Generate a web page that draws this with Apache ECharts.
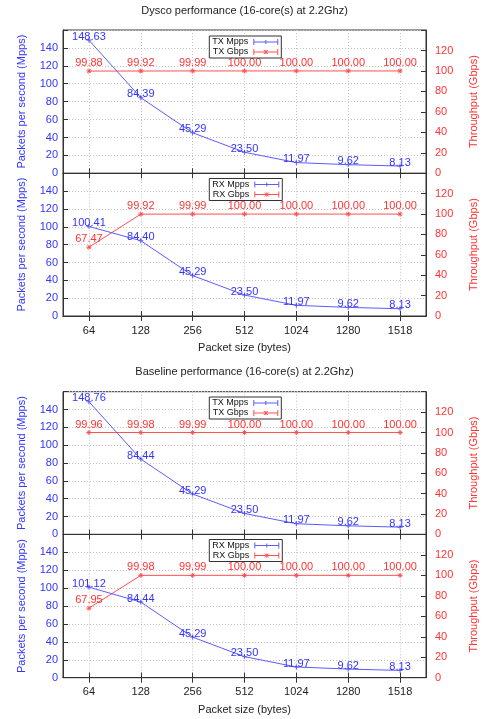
<!DOCTYPE html>
<html><head><meta charset="utf-8">
<script src="https://cdn.jsdelivr.net/npm/echarts@6/dist/echarts.min.js"></script>
<style>html,body{margin:0;padding:0;background:#fff}#c{width:482px;height:719px}</style>
</head><body><div id="c"></div>
<script>
const categories = ['64', '128', '256', '512', '1024', '1280', '1518'];
const dyscoTxMpps = [148.63, 84.39, 45.29, 23.50, 11.97, 9.62, 8.13];
const dyscoTxGbps = [99.88, 99.92, 99.99, 100.00, 100.00, 100.00, 100.00];
const dyscoRxMpps = [100.41, 84.40, 45.29, 23.50, 11.97, 9.62, 8.13];
const dyscoRxGbps = [67.47, 99.92, 99.99, 100.00, 100.00, 100.00, 100.00];
const baseTxMpps = [148.76, 84.44, 45.29, 23.50, 11.97, 9.62, 8.13];
const baseTxGbps = [99.96, 99.98, 99.99, 100.00, 100.00, 100.00, 100.00];
const baseRxMpps = [101.12, 84.44, 45.29, 23.50, 11.97, 9.62, 8.13];
const baseRxGbps = [67.95, 99.98, 99.99, 100.00, 100.00, 100.00, 100.00];
const mppsAxis = { min: 0, max: 160, interval: 20 };
const gbpsAxis = { min: 0, max: 140, interval: 20 };
const titles = ['Dysco performance (16-core(s) at 2.2Ghz)', 'Baseline performance (16-core(s) at 2.2Ghz)'];

const FONT = '"Liberation Sans", Arial, sans-serif';
const BLUE = '#3333ff', RED = '#ff3333';
const BLUE_LINE = '#5c5cff', RED_LINE = '#ff5050';
const AX = '#333333';
const BLUE_ICON = 'path://M0,3L24,3M0,0L0,6M24,0L24,6M12,1L12,5';
const RED_ICON = 'path://M0,3L24,3M0,0L0,6M24,0L24,6M10,1L14,5M14,1L10,5M12,1L12,5';
const PLUS = 'path://M0,5L10,5M5,0L5,10';
const STAR = 'path://M0,5L10,5M5,0L5,10M1.5,1.5L8.5,8.5M8.5,1.5L1.5,8.5';

const panels = [
  { top: 30, h: 143.3, legendTop: 36, names: ['TX Mpps', 'TX Gbps'], mpps: dyscoTxMpps, gbps: dyscoTxGbps, bottom: false },
  { top: 173.3, h: 142.7, legendTop: 178.5, names: ['RX Mpps', 'RX Gbps'], mpps: dyscoRxMpps, gbps: dyscoRxGbps, bottom: true },
  { top: 391.7, h: 142.7, legendTop: 397, names: ['TX Mpps', 'TX Gbps'], mpps: baseTxMpps, gbps: baseTxGbps, bottom: false },
  { top: 534.4, h: 143.3, legendTop: 539.5, names: ['RX Mpps', 'RX Gbps'], mpps: baseRxMpps, gbps: baseRxGbps, bottom: true }
];

const grid = [], xAxis = [], yAxis = [], series = [], legend = [];
panels.forEach((p, i) => {
  grid.push({ left: 63, width: 363, top: p.top, height: p.h, containLabel: false, outerBoundsMode: 'none',
    show: true, borderColor: AX, borderWidth: 1, backgroundColor: 'transparent' });
  xAxis.push({
    gridIndex: i, type: 'category', data: categories, position: 'bottom', boundaryGap: true,
    axisLine: { show: true, lineStyle: { color: AX, width: 1 } },
    axisTick: { show: true, inside: true, alignWithLabel: true, length: 5, lineStyle: { color: AX } },
    axisLabel: { show: p.bottom, margin: 9, color: '#222', fontSize: 11, fontFamily: FONT },
    splitLine: { show: true, alignWithLabel: true, lineStyle: { color: '#c4c4c4', type: [1, 2], width: 1 } },
    name: p.bottom ? 'Packet size (bytes)' : '', nameLocation: 'middle', nameGap: 26.5,
    nameTextStyle: { color: '#222', fontSize: 11, fontFamily: FONT }
  });
  yAxis.push({
    gridIndex: i, type: 'value', position: 'left', min: mppsAxis.min, max: mppsAxis.max, interval: mppsAxis.interval,
    axisLine: { show: true, lineStyle: { color: AX } },
    axisTick: { show: true, inside: true, length: 5, lineStyle: { color: AX } },
    axisLabel: { color: BLUE, fontSize: 11, fontFamily: FONT, margin: 5, formatter: v => (v === mppsAxis.max ? '' : String(v)) },
    splitLine: { show: true, lineStyle: { color: '#c4c4c4', type: [1, 2], width: 1 } },
    name: 'Packets per second (Mpps)', nameLocation: 'middle', nameGap: 36,
    nameTextStyle: { color: BLUE, fontSize: 11, fontFamily: FONT }
  });
  yAxis.push({
    gridIndex: i, type: 'value', position: 'right', min: gbpsAxis.min, max: gbpsAxis.max, interval: gbpsAxis.interval,
    axisLine: { show: true, lineStyle: { color: AX } },
    axisTick: { show: true, inside: true, length: 5, lineStyle: { color: AX } },
    axisLabel: { color: RED, fontSize: 11, fontFamily: FONT, margin: 9, formatter: v => (v === gbpsAxis.max ? '' : String(v)) },
    splitLine: { show: false },
    name: 'Throughput (Gbps)', nameLocation: 'middle', nameGap: 42.5,
    nameTextStyle: { color: RED, fontSize: 11, fontFamily: FONT }
  });
  series.push({
    type: 'line', name: p.names[0], xAxisIndex: i, yAxisIndex: 2 * i, data: p.mpps,
    color: BLUE_LINE, lineStyle: { color: BLUE_LINE, width: 1 },
    symbol: PLUS, symbolSize: 5, showSymbol: true,
    itemStyle: { color: 'transparent', borderColor: BLUE_LINE, borderWidth: 1 },
    label: { show: true, position: 'inside', offset: [0, -3.5], color: BLUE, fontSize: 11, fontFamily: FONT,
      formatter: q => q.value.toFixed(2) },
    emphasis: { disabled: true }, animation: false, z: 3
  });
  series.push({
    type: 'line', name: p.names[1], xAxisIndex: i, yAxisIndex: 2 * i + 1, data: p.gbps,
    color: RED_LINE, lineStyle: { color: RED_LINE, width: 1 },
    symbol: STAR, symbolSize: 5, showSymbol: true,
    itemStyle: { color: 'transparent', borderColor: RED_LINE, borderWidth: 1 },
    label: { show: true, position: 'inside', offset: [0, -8], color: RED, fontSize: 11, fontFamily: FONT,
      formatter: q => q.value.toFixed(2) },
    emphasis: { disabled: true }, animation: false, z: 2
  });
  legend.push({
    top: p.legendTop, left: 209.3, orient: 'vertical', align: 'right', itemGap: 0,
    itemWidth: 25, itemHeight: 6, padding: [1, 3, 1, 3],
    borderColor: AX, borderWidth: 1, backgroundColor: '#fff', selectedMode: false,
    textStyle: { fontSize: 9, color: '#111', fontFamily: FONT, lineHeight: 10 },
    data: [
      { name: p.names[0], icon: BLUE_ICON, itemStyle: { color: 'transparent', borderColor: BLUE_LINE, borderWidth: 1 } },
      { name: p.names[1], icon: RED_ICON, itemStyle: { color: 'transparent', borderColor: RED_LINE, borderWidth: 1 } }
    ]
  });
});
// mirrored top ticks
panels.forEach((p, i) => {
  xAxis.push({
    gridIndex: i, type: 'category', data: categories, position: 'top', boundaryGap: true,
    axisLine: { show: true, lineStyle: { color: AX, width: 1 } },
    axisTick: { show: true, inside: true, alignWithLabel: true, length: 5, lineStyle: { color: AX } },
    axisLabel: { show: false }, splitLine: { show: false }
  });
});

const chart = echarts.init(document.getElementById('c'), null, { renderer: 'canvas' });
chart.setOption({
  backgroundColor: '#fff',
  animation: false,
  title: [
    { text: titles[0], left: 244.5, textAlign: 'center', top: 5.5, padding: 0,
      textStyle: { fontSize: 11, fontWeight: 'normal', color: '#222', fontFamily: FONT } },
    { text: titles[1], left: 244.5, textAlign: 'center', top: 366.5, padding: 0,
      textStyle: { fontSize: 11, fontWeight: 'normal', color: '#222', fontFamily: FONT } }
  ],
  legend, grid, xAxis, yAxis, series
});
</script>
</body></html>
